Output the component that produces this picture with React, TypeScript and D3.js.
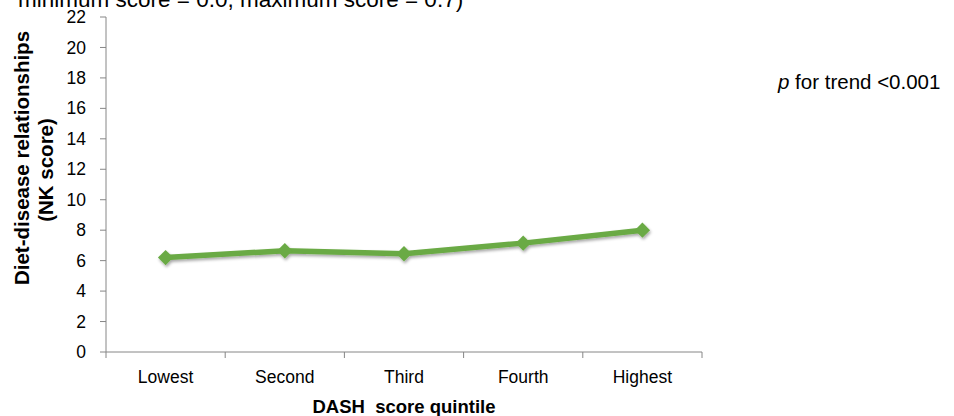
import React, { useEffect, useRef } from "react";
import * as d3 from "d3";

const categories = ["Lowest", "Second", "Third", "Fourth", "Highest"];
const nkScores = [6.2, 6.65, 6.45, 7.15, 8.0];
const yTicks = [0, 2, 4, 6, 8, 10, 12, 14, 16, 18, 20, 22];

const App: React.FC = () => {
  const svgRef = useRef<SVGSVGElement>(null);

  useEffect(() => {
    if (!svgRef.current) return;
    const svg = d3.select(svgRef.current);
    svg.selectAll("*").remove();

    const width = 954;
    const height = 416;
    const margin = { left: 106, right: 252, top: 17, bottom: 64 };
    const font = "Liberation Sans, Arial, sans-serif";
    const axisColor = "#868686";
    const green = "#6aaa44";

    const x = d3
      .scaleBand<string>()
      .domain(categories)
      .range([margin.left, width - margin.right]);
    const y = d3
      .scaleLinear()
      .domain([0, 22])
      .range([height - margin.bottom, margin.top]);

    // shadow for the line
    const defs = svg.append("defs");
    defs
      .append("filter")
      .attr("id", "shadow")
      .attr("x", "-10%")
      .attr("y", "-50%")
      .attr("width", "120%")
      .attr("height", "200%")
      .append("feDropShadow")
      .attr("dx", 1)
      .attr("dy", 2)
      .attr("stdDeviation", 1.5)
      .attr("flood-color", "#000")
      .attr("flood-opacity", 0.35);

    // cut-off caption at top
    svg
      .append("text")
      .attr("x", 18)
      .attr("y", 7)
      .attr("font-family", font)
      .attr("font-size", 22.5)
      .attr("fill", "#000")
      .attr("xml:space", "preserve")
      .text("minimum score = 0.0, maximum score = 0.7)");

    // y axis
    const yAxis = svg.append("g");
    yAxis
      .append("line")
      .attr("x1", margin.left)
      .attr("x2", margin.left)
      .attr("y1", y(22))
      .attr("y2", y(0))
      .attr("stroke", axisColor);
    yAxis
      .selectAll("line.tick")
      .data(yTicks)
      .enter()
      .append("line")
      .attr("class", "tick")
      .attr("x1", margin.left - 6)
      .attr("x2", margin.left)
      .attr("y1", (d) => y(d))
      .attr("y2", (d) => y(d))
      .attr("stroke", axisColor);
    yAxis
      .selectAll("text")
      .data(yTicks)
      .enter()
      .append("text")
      .attr("x", margin.left - 20)
      .attr("y", (d) => y(d))
      .attr("dy", "0.35em")
      .attr("text-anchor", "end")
      .attr("font-family", font)
      .attr("font-size", 17.5)
      .attr("fill", "#000")
      .text((d) => d);

    // x axis
    const xAxis = svg.append("g");
    xAxis
      .append("line")
      .attr("x1", margin.left)
      .attr("x2", width - margin.right)
      .attr("y1", y(0))
      .attr("y2", y(0))
      .attr("stroke", axisColor);
    const bounds = categories.map((c) => x(c) as number).concat([width - margin.right]);
    xAxis
      .selectAll("line.tick")
      .data(bounds)
      .enter()
      .append("line")
      .attr("class", "tick")
      .attr("x1", (d) => d)
      .attr("x2", (d) => d)
      .attr("y1", y(0))
      .attr("y2", y(0) + 6)
      .attr("stroke", axisColor);
    xAxis
      .selectAll("text")
      .data(categories)
      .enter()
      .append("text")
      .attr("x", (d) => (x(d) as number) + x.bandwidth() / 2)
      .attr("y", y(0) + 31)
      .attr("text-anchor", "middle")
      .attr("font-family", font)
      .attr("font-size", 17.5)
      .attr("fill", "#000")
      .text((d) => d);

    // axis titles
    svg
      .append("text")
      .attr("x", margin.left + (width - margin.right - margin.left) / 2)
      .attr("y", 413)
      .attr("text-anchor", "middle")
      .attr("font-family", font)
      .attr("font-size", 18.5)
      .attr("font-weight", "bold")
      .attr("fill", "#000")
      .attr("xml:space", "preserve")
      .text("DASH  score quintile");

    svg
      .append("text")
      .attr("transform", "translate(29, 158) rotate(-90)")
      .attr("text-anchor", "middle")
      .attr("font-family", font)
      .attr("font-size", 20.5)
      .attr("font-weight", "bold")
      .attr("fill", "#000")
      .text("Diet-disease relationships");
    svg
      .append("text")
      .attr("transform", "translate(53, 170) rotate(-90)")
      .attr("text-anchor", "middle")
      .attr("font-family", font)
      .attr("font-size", 20.5)
      .attr("font-weight", "bold")
      .attr("fill", "#000")
      .text("(NK score)");

    // line and markers
    const cx = (i: number) => (x(categories[i]) as number) + x.bandwidth() / 2;
    const line = d3
      .line<number>()
      .x((_, i) => cx(i))
      .y((d) => y(d));

    const series = svg.append("g").attr("filter", "url(#shadow)");
    series
      .append("path")
      .attr("d", line(nkScores) as string)
      .attr("fill", "none")
      .attr("stroke", green)
      .attr("stroke-width", 5.5)
      .attr("stroke-linejoin", "round");

    const diamond = d3.symbol().type(d3.symbolDiamond2).size(150);
    series
      .selectAll("path.marker")
      .data(nkScores)
      .enter()
      .append("path")
      .attr("class", "marker")
      .attr("d", diamond as any)
      .attr("transform", (d, i) => `translate(${cx(i)}, ${y(d)})`)
      .attr("fill", green);

    // annotation
    const note = svg
      .append("text")
      .attr("x", 778)
      .attr("y", 89)
      .attr("font-family", font)
      .attr("font-size", 20.5)
      .attr("fill", "#000");
    note.append("tspan").attr("font-style", "italic").text("p");
    note.append("tspan").text(" for trend <0.001");
  }, []);

  return (
    <div style={{ position: "absolute", left: 0, top: 0 }}>
      <svg ref={svgRef} width={954} height={416} style={{ display: "block", background: "#fff" }} />
    </div>
  );
};

export default App;
